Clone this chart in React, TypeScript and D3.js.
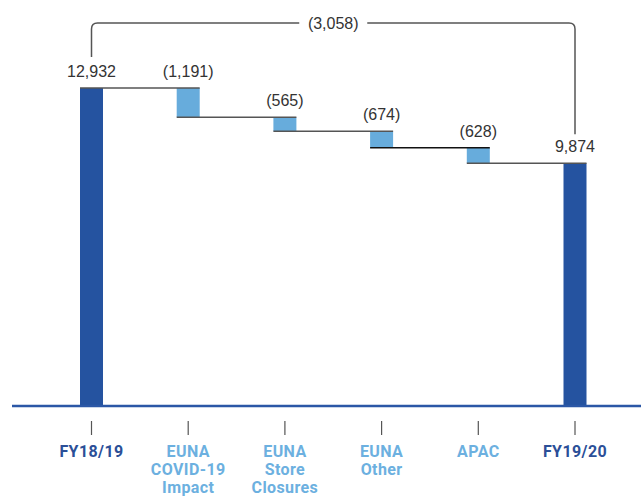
import { useEffect, useRef } from 'react'
import * as d3 from 'd3'

// Waterfall: FY18/19 -> FY19/20
const categories = ['FY18/19', 'EUNA COVID-19 Impact', 'EUNA Store Closures', 'EUNA Other', 'APAC', 'FY19/20']
const labelLines = [['FY18/19'], ['EUNA', 'COVID-19', 'Impact'], ['EUNA', 'Store', 'Closures'], ['EUNA', 'Other'], ['APAC'], ['FY19/20']]
const values = [12932, -1191, -565, -674, -628, 9874]
const isTotal = [true, false, false, false, false, true]
const valueLabels = ['12,932', '(1,191)', '(565)', '(674)', '(628)', '9,874']
const changeLabel = '(3,058)'

export default function App() {
  const svgRef = useRef<SVGSVGElement>(null)

  useEffect(() => {
    if (!svgRef.current) return
    const svg = d3.select(svgRef.current)
    svg.selectAll('*').remove()

    const width = 641
    const height = 496
    const barW = 23

    const x = d3.scalePoint<string>().domain(categories).range([91.5, 575])
    const y = d3.scaleLinear().domain([0, 12932]).range([406, 88])

    // running start / end of each bar
    let running = 0
    const bars = categories.map((c, i) => {
      let y0: number, y1: number
      if (isTotal[i]) {
        y0 = 0
        y1 = values[i]
        running = values[i]
      } else {
        y0 = running
        y1 = running + values[i]
        running = y1
      }
      return { c, i, y0, y1, total: isTotal[i] }
    })

    const darkBlue = '#2553a0'
    const lightBlue = '#67acdc'

    // bars
    svg
      .append('g')
      .selectAll('rect')
      .data(bars)
      .enter()
      .append('rect')
      .attr('x', d => x(d.c)! - barW / 2)
      .attr('width', barW)
      .attr('y', d => y(Math.max(d.y0, d.y1)))
      .attr('height', d => Math.abs(y(d.y0) - y(d.y1)))
      .attr('fill', d => (d.total ? darkBlue : lightBlue))

    // connectors: from left of bar i to right of bar i+1, at level after bar i
    const conn = bars.slice(0, -1).map((d, i) => ({
      x1: x(d.c)! - barW / 2,
      x2: x(categories[i + 1])! + barW / 2,
      yv: d.y1,
    }))
    svg
      .append('g')
      .selectAll('line')
      .data(conn)
      .enter()
      .append('line')
      .attr('x1', d => d.x1)
      .attr('x2', d => d.x2)
      .attr('y1', d => y(d.yv))
      .attr('y2', d => y(d.yv))
      .attr('stroke', (d, i) => (i === 3 ? '#111' : '#555'))
      .attr('stroke-width', 1.5)

    // baseline
    svg
      .append('line')
      .attr('x1', 12)
      .attr('x2', width)
      .attr('y1', y(0))
      .attr('y2', y(0))
      .attr('stroke', '#2b57a6')
      .attr('stroke-width', 2.5)

    // value labels
    svg
      .append('g')
      .selectAll('text')
      .data(bars)
      .enter()
      .append('text')
      .attr('x', d => x(d.c)!)
      .attr('y', d => y(Math.max(d.y0, d.y1)) - 11)
      .attr('text-anchor', 'middle')
      .attr('font-family', '"Liberation Sans", Arial, sans-serif')
      .attr('font-size', 16)
      .attr('fill', '#333')
      .text((d, i) => valueLabels[i])

    // bracket for total change
    const xl = x(categories[0])!
    const xr = x(categories[5])!
    const top = 23
    const r = 6
    const yl = y(values[0]) - 31
    const yr = y(values[5]) - 29
    const xm = (xl + xr) / 2
    const gap = 34
    svg
      .append('path')
      .attr('d', `M${xl},${yl} V${top + r} Q${xl},${top} ${xl + r},${top} H${xm - gap}`)
      .attr('fill', 'none')
      .attr('stroke', '#555')
      .attr('stroke-width', 1.5)
    svg
      .append('path')
      .attr('d', `M${xm + gap},${top} H${xr - r} Q${xr},${top} ${xr},${top + r} V${yr}`)
      .attr('fill', 'none')
      .attr('stroke', '#555')
      .attr('stroke-width', 1.5)
    svg
      .append('text')
      .attr('x', xm)
      .attr('y', top + 5.5)
      .attr('text-anchor', 'middle')
      .attr('font-family', '"Liberation Sans", Arial, sans-serif')
      .attr('font-size', 16)
      .attr('fill', '#333')
      .text(changeLabel)

    // x ticks
    svg
      .append('g')
      .selectAll('line')
      .data(categories)
      .enter()
      .append('line')
      .attr('x1', d => x(d)!)
      .attr('x2', d => x(d)!)
      .attr('y1', 421)
      .attr('y2', 435)
      .attr('stroke', '#555')
      .attr('stroke-width', 1.2)

    // x labels
    const lab = svg
      .append('g')
      .selectAll('text')
      .data(categories)
      .enter()
      .append('text')
      .attr('x', d => x(d)!)
      .attr('y', 457)
      .attr('text-anchor', 'middle')
      .attr('font-family', 'Roboto, sans-serif')
      .attr('font-weight', 700)
      .attr('font-size', 16)
      .attr('letter-spacing', 0.4)
      .attr('fill', (d, i) => (isTotal[i] ? '#2b4f98' : '#6cb0e0'))
    lab
      .selectAll('tspan')
      .data((d, i) => labelLines[i])
      .enter()
      .append('tspan')
      .attr('x', function () {
        return (this as any).parentNode.getAttribute('x')
      })
      .attr('dy', (d, j) => (j === 0 ? 0 : 18))
      .text(d => d)

    svg.attr('width', width).attr('height', height)
  }, [])

  return (
    <div style={{ position: 'absolute', left: 0, top: 0 }}>
      <svg ref={svgRef} width={641} height={496} style={{ display: 'block' }}></svg>
    </div>
  )
}
